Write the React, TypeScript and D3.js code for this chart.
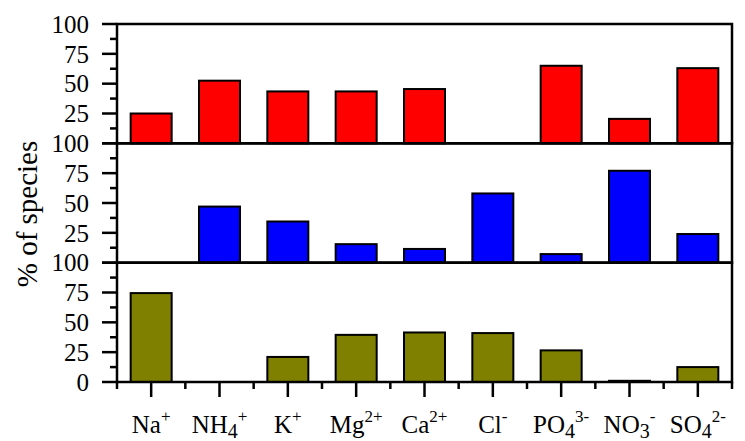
import React from "react";
import * as d3 from "d3";

// Category labels as [text, kind] parts: "n" normal, "sub", "sup"
const categories: [string, string][][] = [
  [["Na", "n"], ["+", "sup"]],
  [["NH", "n"], ["4", "sub"], ["+", "sup"]],
  [["K", "n"], ["+", "sup"]],
  [["Mg", "n"], ["2+", "sup"]],
  [["Ca", "n"], ["2+", "sup"]],
  [["Cl", "n"], ["-", "sup"]],
  [["PO", "n"], ["4", "sub"], ["3-", "sup"]],
  [["NO", "n"], ["3", "sub"], ["-", "sup"]],
  [["SO", "n"], ["4", "sub"], ["2-", "sup"]],
];

const redValues = [25, 52.5, 43.5, 43.5, 45.5, 0, 65, 20.5, 63];
const blueValues = [0, 47, 34.5, 15.5, 11.5, 58, 7.2, 77, 24];
const oliveValues = [74.5, 0, 21, 39.5, 41.5, 41, 26.5, 1, 12.5];

const panelColors = ["#ff0000", "#0000ff", "#808000"];
const majorTicks = [0, 25, 50, 75, 100];
const minorTicks = [12.5, 37.5, 62.5, 87.5];

const W = 745;
const H = 441;
const left = 117;
const right = 732;
const top = 24;
const bottom = 382;
const FONT = "Liberation Serif, DejaVu Serif, serif";

export default function App() {
  const series = [redValues, blueValues, oliveValues];
  const panelH = (bottom - top) / 3;
  const x = d3
    .scaleBand<number>()
    .domain(d3.range(categories.length))
    .range([left, right])
    .paddingInner(0.4)
    .paddingOuter(0.2);
  const xb = d3.scaleBand<number>().domain(d3.range(categories.length)).range([left, right]);

  const panels = series.map((vals, p) => {
    const y = d3
      .scaleLinear()
      .domain([0, 100])
      .range([top + panelH * (p + 1), top + panelH * p]);
    return (
      <g key={p}>
        {vals.map((v, i) =>
          v > 0 ? (
            <rect
              key={i}
              x={x(i)!}
              width={x.bandwidth()}
              y={y(v)}
              height={y(0) - y(v)}
              fill={panelColors[p]}
              stroke="#000"
              strokeWidth={2}
            />
          ) : null
        )}
        {majorTicks.map((t) => (
          <line key={"M" + t} x1={left - 15} x2={left} y1={y(t)} y2={y(t)} stroke="#000" strokeWidth={2.5} />
        ))}
        {minorTicks.map((t) => (
          <line key={"m" + t} x1={left - 7} x2={left} y1={y(t)} y2={y(t)} stroke="#000" strokeWidth={2.5} />
        ))}
        {majorTicks
          .filter((t) => t > 0 || p === 2)
          .map((t) => (
            <text
              key={"l" + t}
              x={left - 28}
              y={y(t)}
              dy="0.35em"
              textAnchor="end"
              style={{ fontFamily: FONT }}
              fontSize={25}
              fill="#000"
            >
              {t}
            </text>
          ))}
        <rect
          x={left}
          y={y(100)}
          width={right - left}
          height={y(0) - y(100)}
          fill="none"
          stroke="#000"
          strokeWidth={2.5}
        />
      </g>
    );
  });

  return (
    <svg width={W} height={H} style={{ position: "absolute", left: 0, top: 0, background: "#fff" }}>
      <rect width={W} height={H} fill="#fff" />
      {panels}
      {/* x ticks */}
      {categories.map((_, i) => (
        <line
          key={"xt" + i}
          x1={xb(i)! + xb.bandwidth() / 2}
          x2={xb(i)! + xb.bandwidth() / 2}
          y1={bottom}
          y2={bottom + 15}
          stroke="#000"
          strokeWidth={2.5}
        />
      ))}
      {d3.range(categories.length + 1).map((i) => (
        <line
          key={"xm" + i}
          x1={left + i * xb.bandwidth()}
          x2={left + i * xb.bandwidth()}
          y1={bottom}
          y2={bottom + 7}
          stroke="#000"
          strokeWidth={2.5}
        />
      ))}
      {/* x labels */}
      {categories.map((parts, i) => {
        let cur = 0;
        return (
          <text
            key={"xl" + i}
            x={xb(i)! + xb.bandwidth() / 2}
            y={433}
            textAnchor="middle"
            style={{ fontFamily: FONT }}
            fontSize={25}
            fill="#000"
          >
            {parts.map(([t, k], j) => {
              const target = k === "sub" ? 5 : k === "sup" ? -11 : 0;
              const dy = target - cur;
              cur = target;
              return (
                <tspan key={j} dy={dy} fontSize={k === "n" ? 25 : k === "sub" ? 20 : 17}>
                  {t}
                </tspan>
              );
            })}
          </text>
        );
      })}
      <text
        transform={`translate(37,214) rotate(-90)`}
        textAnchor="middle"
        style={{ fontFamily: FONT }}
        fontSize={29}
        fill="#000"
      >
        % of species
      </text>
    </svg>
  );
}
